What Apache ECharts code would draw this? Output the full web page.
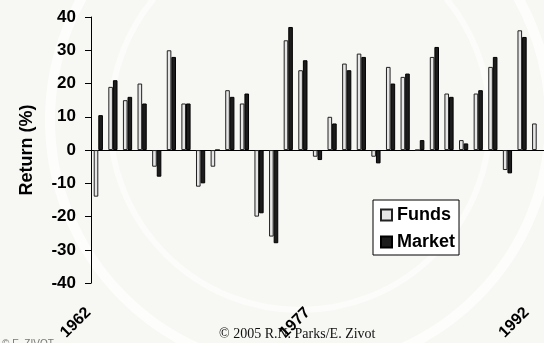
<!DOCTYPE html>
<html>
<head>
<meta charset="utf-8">
<script src="https://cdn.jsdelivr.net/npm/echarts@6/dist/echarts.min.js"></script>
<style>
  html, body { margin: 0; padding: 0; background: #f7f7f4; }
  #chart { width: 544px; height: 343px; }
</style>
</head>
<body>
<div id="chart"></div>
<script>
// Annual returns (%), mutual funds vs. the market
const years = ['1962','1963','1964','1965','1966','1967','1968','1969','1970','1971',
               '1972','1973','1974','1975','1976','1977','1978','1979','1980','1981',
               '1982','1983','1984','1985','1986','1987','1988','1989','1990','1991','1992'];
const funds  = [-14, 19, 15, 20, -5, 30, 14, -11, -5, 18,
                14, -20, -26, 33, 24, -2, 10, 26, 29, -2,
                25, 22, 0, 28, 17, 3, 17, 25, -6, 36, 8];
const market = [10.5, 21, 16, 14, -8, 28, 14, -10, 0, 16,
                17, -19, -28, 37, 27, -3, 8, 24, 28, -4,
                20, 23, 3, 31, 16, 2, 18, 28, -7, 34, null];
const yTicks = { min: -40, max: 40, step: 10 };

const chart = echarts.init(document.getElementById('chart'), null, { renderer: 'canvas' });
const font = '"Liberation Sans", Arial, sans-serif';

chart.setOption({
  backgroundColor: '#f7f7f4',
  animation: false,
  graphic: [
    // faint seal in the background
    { type: 'circle', shape: { cx: 300, cy: 120, r: 250 }, silent: true, z: -10,
      style: { fill: 'none', stroke: '#fdfdfc', lineWidth: 10 } },
    { type: 'circle', shape: { cx: 300, cy: 120, r: 190 }, silent: true, z: -10,
      style: { fill: 'none', stroke: '#fcfcfa', lineWidth: 6 } },
    { type: 'text', left: 219, top: 327, silent: true,
      style: { text: '\u00a9 2005 R.N. Parks/E. Zivot', fill: '#111',
               font: '14px "Liberation Serif", "Times New Roman", serif' } },
    { type: 'text', left: 2, top: 339, silent: true,
      style: { text: '\u00a9 E. ZIVOT', fill: '#777',
               font: '10px "Liberation Sans", Arial, sans-serif' } }
  ],
  grid: { left: 91, top: 17, width: 462, height: 270, containLabel: false },
  legend: {
    orient: 'vertical', left: 373, top: 200,
    itemWidth: 11, itemHeight: 11, itemGap: 9,
    padding: [6, 4, 4, 7],
    backgroundColor: '#ffffff', borderColor: '#000', borderWidth: 1, borderRadius: 0,
    icon: 'rect',
    textStyle: { fontFamily: font, fontWeight: 'bold', fontSize: 18, color: '#000' },
    data: ['Funds', 'Market']
  },
  xAxis: [
    {
      type: 'category', data: years, boundaryGap: true,
      axisLine: { show: true, onZero: true, lineStyle: { color: '#000', width: 1 } },
      axisTick: { show: false },
      axisLabel: { show: false },
      splitLine: { show: false }
    },
    {
      type: 'category', data: years, boundaryGap: true, position: 'bottom',
      axisLine: { show: false, onZero: false },
      axisTick: { show: false },
      axisLabel: {
        show: true, interval: 14, rotate: 45, margin: 17, padding: [0, 14, 0, 0],
        fontFamily: font, fontWeight: 'bold', fontSize: 16, color: '#000'
      },
      splitLine: { show: false }
    }
  ],
  yAxis: {
    type: 'value', min: yTicks.min, max: yTicks.max, interval: yTicks.step,
    name: 'Return (%)', nameLocation: 'middle', nameGap: 55, nameRotate: 90,
    nameTextStyle: { fontFamily: font, fontWeight: 'bold', fontSize: 18, color: '#000' },
    axisLine: { show: true, lineStyle: { color: '#000', width: 1 } },
    axisTick: { show: true, inside: false, length: 6, lineStyle: { color: '#000' } },
    axisLabel: { margin: 15, fontFamily: font, fontWeight: 'bold', fontSize: 17, color: '#000' },
    splitLine: { show: false }
  },
  series: [
    {
      name: 'Funds', type: 'bar', xAxisIndex: 0, data: funds,
      barWidth: 4.6, barGap: '0%',
      itemStyle: { color: '#e6e6e6', borderColor: '#222', borderWidth: 1 }
    },
    {
      name: 'Market', type: 'bar', xAxisIndex: 0, data: market,
      barWidth: 4.6, barGap: '0%',
      itemStyle: { color: '#1c1c1c', borderColor: '#000', borderWidth: 1 }
    }
  ]
});
</script>
</body>
</html>
